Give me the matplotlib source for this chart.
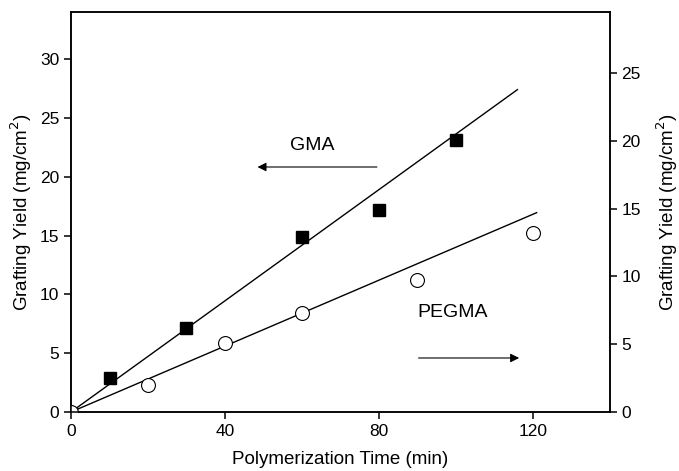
import numpy as np
import matplotlib.pyplot as plt

plt.rcParams['font.family'] = ['Liberation Sans', 'DejaVu Sans']

# GMA (left axis)
t_gma = [10, 30, 60, 80, 100]
y_gma = [2.9, 7.1, 14.9, 17.2, 23.1]
gma_fit_x = [0, 116]
gma_fit_y = [0, 27.4]

# PEGMA (right axis)
t_peg = [0, 20, 40, 60, 90, 120]
y_peg = [0, 2.0, 5.1, 7.3, 9.7, 13.2]
peg_fit_x = [0, 121]
peg_fit_y = [0, 14.7]

x_ticks = [0, 40, 80, 120]

fig = plt.figure(figsize=(6.79, 4.71), dpi=100)
ax = fig.add_axes([0.1046, 0.1253, 0.7934, 0.8492])
ax2 = ax.twinx()

ax.plot(gma_fit_x, gma_fit_y, color='black', lw=1.0)
ax.plot(t_gma, y_gma, 's', color='black', ms=9, clip_on=False)
ax2.plot(peg_fit_x, peg_fit_y, color='black', lw=1.0)
ax2.plot(t_peg, y_peg, 'o', mfc='white', mec='black', mew=0.8, ms=10, clip_on=True)

ax.set_xlim(0, 140)
ax.set_ylim(0, 34)
ax2.set_ylim(0, 29.5)
ax.set_xticks(x_ticks)
ax.set_yticks(np.arange(0, 31, 5))
ax2.set_yticks(np.arange(0, 26, 5))

for a in (ax, ax2):
    for s in a.spines.values():
        s.set_linewidth(1.1)
    a.tick_params(direction='out', length=5, width=1.1, labelsize=12.5)
ax.tick_params(top=False)

ax.set_xlabel('Polymerization Time (min)', fontsize=13.5, labelpad=9)
ax.set_ylabel('Grafting Yield (mg/cm$^2$)', fontsize=13.5)
ax2.set_ylabel('Grafting Yield (mg/cm$^2$)', fontsize=13.5, rotation=90, labelpad=10)

arrow = dict(arrowstyle='-|>', color='black', lw=0.8, mutation_scale=13)
ax.annotate('', xy=(0.341, 0.6125), xytext=(0.573, 0.6125),
            xycoords='axes fraction', arrowprops=arrow)
ax.text(0.447, 0.667, 'GMA', transform=ax.transAxes, ha='center', va='center', fontsize=14)
ax.annotate('', xy=(0.837, 0.135), xytext=(0.640, 0.135),
            xycoords='axes fraction', arrowprops=arrow)
ax.text(0.709, 0.2475, 'PEGMA', transform=ax.transAxes, ha='center', va='center', fontsize=14)

fig.savefig('out.png', dpi=100)
